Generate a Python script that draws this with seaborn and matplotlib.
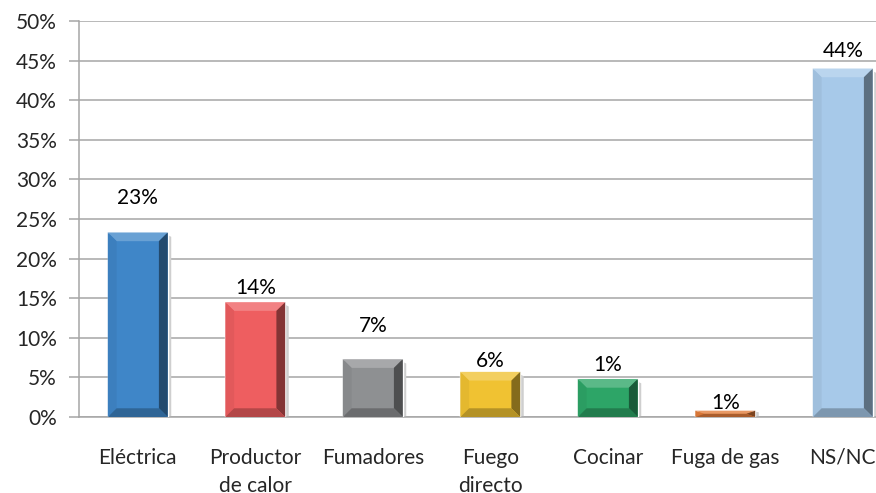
import numpy as np
import pandas as pd
import matplotlib
matplotlib.use("Agg")
import matplotlib.pyplot as plt
from matplotlib.patches import Polygon
from matplotlib.colors import to_rgb
import seaborn as sns

# data
categories = ["Eléctrica", "Productor\nde calor", "Fumadores", "Fuego\ndirecto",
              "Cocinar", "Fuga de gas", "NS/NC"]
values = [23.3, 14.5, 7.3, 5.7, 4.8, 0.8, 44.0]
value_labels = ["23%", "14%", "7%", "6%", "1%", "1%", "44%"]
label_heights = [27.7, 16.3, 11.5, 7.1, 6.6, 1.8, 46.2]
colors = ["#3F86C8", "#EE5E60", "#8E9092", "#F0C232", "#2DA567", "#E27C3A", "#A7C9E9"]

sns.set_style("white")
plt.rcParams["font.family"] = ["Lato", "DejaVu Sans"]
FS = 15

df = pd.DataFrame({"cat": categories, "val": values})

fig = plt.figure(figsize=(8.76, 4.93), dpi=100)
ax = fig.add_axes([79 / 876, 76 / 493, 822.5 / 876, 396 / 493])

sns.barplot(data=df, x="cat", y="val", hue="cat", palette=colors, legend=False,
            width=0.51, saturation=1, ax=ax, zorder=3)


def shade(c, f):
    r = np.array(to_rgb(c))
    if f >= 0:
        return tuple(r + (1 - r) * f)
    return tuple(r * (1 + f))


# bevel effect on each bar
for p, c in zip(ax.patches, colors):
    x, w, h = p.get_x(), p.get_width(), p.get_height()
    bx = 0.075
    by = min(1.1, h / 2)
    # soft shadow
    ax.add_patch(Polygon([(x + w, h - by * 0.3), (x + w + 0.03, h - by * 0.5),
                          (x + w + 0.03, 0), (x + w, 0)],
                         closed=True, color="#CFCFCF", lw=0, zorder=2))
    top = [(x, h), (x + w, h), (x + w - bx, h - by), (x + bx, h - by)]
    right = [(x + w, h), (x + w, 0), (x + w - bx, by), (x + w - bx, h - by)]
    left = [(x, h), (x + bx, h - by), (x + bx, by), (x, 0)]
    bottom = [(x, 0), (x + bx, by), (x + w - bx, by), (x + w, 0)]
    for poly, f in [(top, 0.22), (left, -0.05), (right, -0.45), (bottom, -0.25)]:
        ax.add_patch(Polygon(poly, closed=True, color=shade(c, f), lw=0, zorder=4))

for i, (t, yv) in enumerate(zip(value_labels, label_heights)):
    ax.text(i, yv, t, ha="center", va="center", fontsize=FS, color="black", zorder=5)

ax.set_xlim(-0.5, 6.5)
ax.set_ylim(0, 50)
ax.set_yticks(np.arange(0, 51, 5))
ax.set_yticklabels([f"{v}%" for v in range(0, 51, 5)], fontsize=FS)
ax.yaxis.grid(True, color="#A6A6A6", lw=1.1, zorder=0)
ax.set_axisbelow(True)
ax.set_xlabel("")
ax.set_ylabel("")

ax.set_xticks(range(len(categories)))
ax.set_xticklabels(categories, fontsize=FS, linespacing=1.5, va="top")
ax.set_xticks(np.arange(0.5, 6.5, 1), minor=True)
ax.tick_params(axis="x", which="major", length=0, pad=22)
ax.tick_params(axis="x", which="minor", length=7, color="#A6A6A6", width=1.1, direction="out")
ax.tick_params(axis="y", length=7, color="#A6A6A6", width=1.1, direction="out", left=True, pad=9)

for s in ["top", "right"]:
    ax.spines[s].set_visible(False)
for s in ["left", "bottom"]:
    ax.spines[s].set_color("#A6A6A6")
    ax.spines[s].set_linewidth(1.1)

fig.savefig("out.png", dpi=100)
